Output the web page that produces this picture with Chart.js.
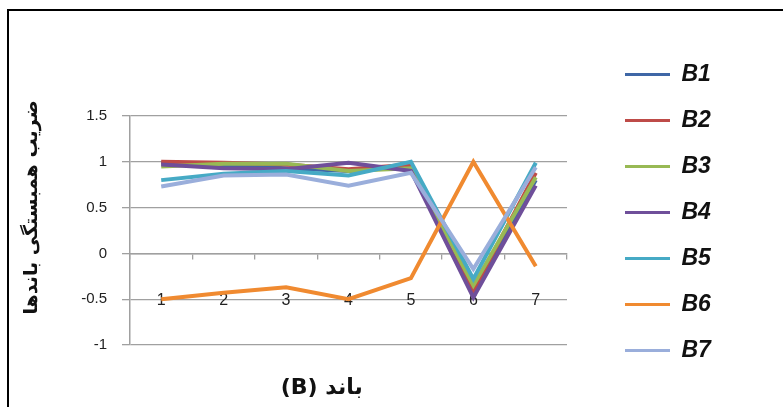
<!DOCTYPE html>
<html>
<head>
<meta charset="utf-8">
<script src="https://cdn.jsdelivr.net/npm/chart.js@4"></script>
<style>
  html, body { margin: 0; padding: 0; background: #fff; }
  #wrap { position: relative; width: 783px; height: 407px; overflow: hidden; }
  #frame { position: absolute; left: 7px; top: 9px; width: 800px; height: 420px;
           border-left: 2px solid #000; border-top: 2px solid #000; }
  #chart { position: absolute; left: 0; top: 0; }
</style>
</head>
<body>
<div id="wrap">
  <div id="frame"></div>
  <canvas id="chart" width="783" height="407"></canvas>
</div>
<script>
// bands on the x axis
const bands = ['1', '2', '3', '4', '5', '6', '7'];

// correlation of each band with bands 1..7
const b1 = [0.99, 0.96, 0.93, 0.90, 0.95, -0.45, 0.80];
const b2 = [1.00, 0.99, 0.97, 0.92, 0.97, -0.40, 0.88];
const b3 = [0.95, 0.98, 0.98, 0.90, 0.93, -0.35, 0.83];
const b4 = [0.97, 0.93, 0.92, 0.99, 0.90, -0.48, 0.74];
const b5 = [0.80, 0.87, 0.90, 0.85, 1.00, -0.28, 0.99];
const b6 = [-0.50, -0.43, -0.37, -0.50, -0.27, 1.00, -0.14];
const b7 = [0.73, 0.85, 0.86, 0.74, 0.88, -0.17, 0.94];

const seriesNames = ['B1', 'B2', 'B3', 'B4', 'B5', 'B6', 'B7'];
const seriesData = [b1, b2, b3, b4, b5, b6, b7];
const seriesColors = ['#3f67a6', '#be4b48', '#98b954', '#6f4f9a', '#46aac5', '#f08a30', '#9aaedb'];

const datasets = seriesNames.map((name, i) => ({
  label: name,
  data: seriesData[i],
  borderColor: seriesColors[i],
  backgroundColor: seriesColors[i],
  borderWidth: 4,
  pointRadius: 0,
  tension: 0,
  // excel draws first series underneath
  order: seriesNames.length - i
}));

const gridColor = '#a0a0a0';
const nb = n => '\u00A0'.repeat(n);

new Chart(document.getElementById('chart').getContext('2d'), {
  type: 'line',
  data: { labels: bands, datasets: datasets },
  options: {
    responsive: false,
    animation: false,
    layout: { padding: { top: 18, left: 12, right: 63, bottom: 0 } },
    plugins: {
      title: { display: true, text: '', fullSize: false, padding: { top: 83.6, bottom: 0 } },
      tooltip: { enabled: false },
      legend: {
        position: 'right',
        labels: {
          boxWidth: 45,
          boxHeight: 3,
          padding: 23,
          color: '#111',
          font: { family: 'Liberation Sans, Arial', size: 23, weight: 'bold', style: 'italic' },
          sort: (a, b) => a.datasetIndex - b.datasetIndex,
          generateLabels: chart => Chart.defaults.plugins.legend.labels.generateLabels(chart)
            .map(item => Object.assign(item, { lineWidth: 0 }))
        }
      }
    },
    scales: {
      x: {
        type: 'category',
        position: { y: 0 },
        offset: true,
        grid: { display: true, drawOnChartArea: false, drawTicks: true, tickLength: 5, offset: true, color: gridColor, lineWidth: 1.3 },
        border: { display: true, color: gridColor, width: 1.5 },
        ticks: {
          padding: 33,
          color: '#222',
          font: { family: 'Liberation Sans, Arial', size: 16 }
        }
      },
      x2: {
        type: 'category',
        labels: bands,
        position: 'bottom',
        offset: true,
        grid: { display: false },
        border: { display: false },
        ticks: { display: false },
        title: {
          display: true,
          text: '(B) باند' + nb(7),
          color: '#111',
          padding: { top: 22, bottom: 5.6 },
          font: { family: 'DejaVu Sans', size: 22, weight: 'bold' }
        }
      },
      y: {
        min: -1,
        max: 1.5,
        ticks: {
          stepSize: 0.5,
          padding: 15,
          color: '#222',
          font: { family: 'Liberation Sans, Arial', size: 15 },
          callback: v => String(v)
        },
        grid: { color: gridColor, lineWidth: 1.3, tickLength: 8 },
        border: { display: true, color: gridColor, width: 1.5 },
        title: {
          display: true,
          text: nb(7) + 'ضریب همبستگی باندها',
          color: '#111',
          padding: { top: 9, bottom: 29 },
          font: { family: 'DejaVu Sans', size: 19, weight: 'bold' }
        }
      },
      yGap: {
        type: 'linear',
        position: 'right',
        grid: { display: false },
        border: { display: false },
        ticks: { display: false },
        afterFit: s => { s.width = 35; }
      }
    }
  }
});
</script>
</body>
</html>
